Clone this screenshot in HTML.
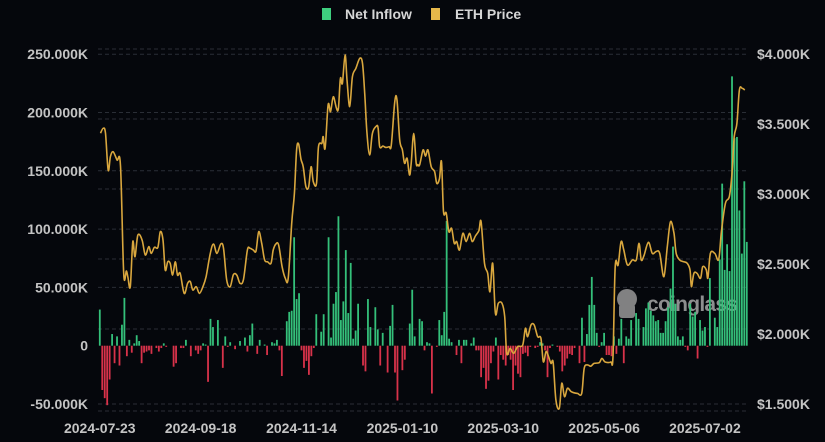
<!DOCTYPE html>
<html><head><meta charset="utf-8"><style>
html,body{margin:0;padding:0;background:#05070c;}
svg{display:block;font-family:"Liberation Sans Narrow","Liberation Sans",sans-serif;}
</style></head><body>
<svg id="chart" width="825" height="442" viewBox="0 0 825 442" xmlns="http://www.w3.org/2000/svg">
<rect x="0" y="0" width="825" height="442" fill="#05070c"/>
<g>
 <g>
  <rect x="322" y="8" width="9" height="12" fill="#3ecf7f"/>
  <text x="345" y="19" fill="#d6d6d6" font-size="14" font-weight="bold">Net Inflow</text>
 </g>
 <g>
  <rect x="431" y="8" width="9" height="12" fill="#e6b84a"/>
  <text x="455" y="19" fill="#d6d6d6" font-size="14" font-weight="bold">ETH Price</text>
 </g>
</g>
<g id="grid"></g>
<g id="watermark" opacity="0.8">
 <ellipse cx="627" cy="299" rx="10" ry="10" fill="#a0a0a0"/>
 <rect x="619" y="304" width="16" height="14" rx="3" fill="#a0a0a0"/>
 <text x="647" y="311" fill="#b0b0b0" font-size="21" font-weight="bold" font-family="Liberation Sans, sans-serif" textLength="91">coinglass</text>
</g>
<g id="bars"></g>
<g id="line"></g>
<g id="axes"></g>
</svg>
<script>
const inflowK = [31,-38,-45,-51,-29,10,-15,8,-17,18,
41,-9,5,-6,2,9,4,-15,-6,-5,
-4,-7,0,-2,-5,-2,2,-1,0,0,
-18,-15,0,-2,-2,5,0,-9,0,-4,
-7,-4,2,1,-31,23,16,0,22,0,
-19,8,-1,3,0,-3,0,4,0,7,
-5,9,19,0,-7,5,0,1,-8,0,
3,2,5,-4,-26,0,21,29,30,93,
40,45,-4,-19,-13,-25,-9,-2,27,0,
12,27,0,93,7,36,46,111,22,38,
82,28,71,6,13,36,0,-17,-22,40,
16,0,33,14,-17,11,0,-23,17,35,
-23,-47,0,-21,-12,0,19,48,8,0,
23,21,-4,3,2,-41,0,-1,22,9,
29,107,6,3,0,-8,5,-15,5,5,
0,2,7,-4,-4,-27,-19,-37,-30,-15,
-5,7,-29,-8,-12,-17,-8,-12,-38,-17,
-24,-27,-7,-6,-9,-1,0,-2,-1,3,
2,-4,-27,-2,1,0,-1,-5,-22,-17,
-11,-7,-8,-2,0,-15,24,-14,10,35,
59,35,11,-1,3,11,-8,-8,-9,8,
-7,6,23,-15,8,6,22,0,28,23,
0,16,32,37,30,26,21,22,11,11,
21,33,49,85,36,8,5,8,-1,-4,
36,25,29,-11,22,13,16,-1,58,0,
24,16,74,139,65,87,64,231,178,179,
116,79,141,89];
const priceDay = [0.3,1.4,2.3,3.4,4.3,5.4,7.0,8.4,9.7,10.8,11.4,12.4,13.4,14.3,15.5,17.2,18.5,19.9,20.9,22.2,23.6,24.6,25.7,26.6,27.6,28.6,29.6,30.7,31.6,32.7,34.3,35.7,36.8,37.8,39.2,40.5,41.9,43.2,44.9,46.2,47.6,49.2,50.3,51.6,53.0,54.3,55.7,57.0,58.4,60.0,61.1,62.4,63.5,64.6,65.8,67.0,68.2,69.6,70.5,71.6,72.7,74.1,75.4,76.6,78.0,79.1,80.0,80.8,81.8,82.7,83.8,84.9,85.9,86.8,88.1,88.9,90.3,90.8,91.6,92.8,93.8,94.9,96.2,97.0,97.8,98.6,99.7,100.5,101.6,102.7,104.1,105.7,106.8,107.7,108.6,109.7,110.8,112.2,113.1,113.8,115.1,116.2,117.6,118.5,119.9,120.8,121.9,123.0,123.9,124.9,125.9,126.6,127.6,128.6,129.3,
130,131.4,132.4,133.4,134.7,136.1,137,138.1,138.9,139.7,140.8,141.9,143,144.1,145.1,146.2,147.6,148.9,150.3,151.4,152.7,154.1,155,156.4,157.7,158.6,159.7,160.8,162,163.5,164.6,165.4,166.8,168.2,169.9,171.9,173,173.9,175.3,176.6,178,179.3,180.3,181.4,182.4,183.4,184.3,185.4,186.8,187.8,188.9,190.1,191.5,192.8,194.2,195.9,196.9,198.2,199.6,200.9,203,204.1,205.4,207.7,208.6,209.5,210.7,211.9,213,214.5,216.5,218.1,219.2,220.1,221.2,223,224.6,226.2,227.6,229.3,230.7,232,233.4,234.3,235.7,237.4,238.8,239.9,240.5,241.5,242.8,244.2,245.1,246.5,247.2,248.2,250,251.6,252.7,254.3,255.9,257,257.9,259,260,261.1,262.2];
const priceUsd = [3434,3469,3434,3171,3267,3302,3243,3200,2434,2450,2409,2338,2659,2552,2707,2671,2564,2624,2576,2619,2619,2731,2671,2457,2516,2505,2421,2516,2421,2433,2290,2362,2374,2314,2338,2290,2338,2409,2576,2643,2576,2643,2612,2386,2338,2424,2421,2362,2390,2600,2612,2600,2593,2731,2648,2529,2516,2505,2600,2643,2636,2481,2398,2398,2790,3005,3314,3357,3248,3195,3052,3052,3195,3088,3076,3338,3362,3410,3327,3636,3588,3695,3612,3612,3826,3790,3993,3814,3624,3838,3898,3969,3933,3719,3433,3279,3433,3481,3476,3338,3343,3333,3338,3350,3660,3671,3386,3314,3219,3255,3136,3219,3433,3219,3210,
3207,3314,3270,3314,3195,3160,3076,3110,3231,2874,2864,2731,2755,2648,2660,2600,2719,2660,2719,2660,2700,2738,2802,2505,2433,2302,2505,2148,2219,2219,2124,1862,1898,1862,1910,1921,2041,1981,2064,2064,1981,1970,1802,1874,1840,1790,1795,1529,1469,1648,1552,1612,1590,1580,1576,1576,1755,1779,1770,1790,1795,1826,1800,1800,1838,2481,2493,2659,2600,2493,2529,2529,2648,2529,2560,2655,2576,2590,2576,2409,2624,2802,2719,2576,2529,2516,2505,2457,2338,2433,2433,2398,2481,2460,2400,2576,2576,2533,2731,2933,2981,3148,3410,3505,3743,3755,3743];
const leftTicksK = [250,200,150,100,50,0,-50];
const rightTicksUsd = [4000,3500,3000,2500,2000,1500];
const xTickDay = [0,41,82,123,164,205,246];
const xTickLabels = ["2024-07-23","2024-09-18","2024-11-14","2025-01-10","2025-03-10","2025-05-06","2025-07-02"];

const NS="http://www.w3.org/2000/svg";
const X0=99.8, STEP=2.46;
const xScale = d => X0 + d*STEP;
const yLeft = k => 345.7 - k*(58.3/50);
const yRight = p => 54 + (4000-p)*(70/500);
function mk(tag, parent){const e=document.createElementNS(NS,tag);parent.appendChild(e);return e;}

const grid=document.getElementById('grid');
leftTicksK.forEach(k=>{ if(k===0) return;
  const l=mk('line',grid);
  
  
  l.setAttribute('x1',98);l.setAttribute('x2',748);l.setAttribute('y1',yLeft(k));l.setAttribute('y2',yLeft(k));
  l.setAttribute('stroke','#2a2e36');l.setAttribute('stroke-dasharray','4 3');l.setAttribute('stroke-width','1');
});
rightTicksUsd.forEach(p=>{
  const l=mk('line',grid);
  
  
  const y=yRight(p)-5+(p===1500?12:0);
  l.setAttribute('x1',98);l.setAttribute('x2',748);l.setAttribute('y1',y);l.setAttribute('y2',y);
  l.setAttribute('stroke','#2a2e36');l.setAttribute('stroke-dasharray','4 3');l.setAttribute('stroke-width','1');
});

const bars=document.getElementById('bars');
inflowK.forEach((v,i)=>{ if(v===0) return;
  const r=mk('rect',bars);
  
  
  const y0=yLeft(0), y1=yLeft(v);
  r.setAttribute('x',xScale(i)-0.9);r.setAttribute('width',1.8);
  r.setAttribute('y',Math.min(y0,y1));r.setAttribute('height',Math.max(0.8,Math.abs(y1-y0)));
  r.setAttribute('fill',v>0?'#34c07a':'#d8324a');
});

const lineG=document.getElementById('line');
const path=mk('path',lineG);


const pts=priceDay.map((d,i)=>[xScale(d),yRight(priceUsd[i])]);
let dStr='M'+pts[0][0].toFixed(1)+','+pts[0][1].toFixed(1);
for(let i=1;i<pts.length;i++){
  const p0=pts[i-2]||pts[i-1],p1=pts[i-1],p2=pts[i],p3=pts[i+1]||pts[i];
  const c1=[p1[0]+(p2[0]-p0[0])/6,p1[1]+(p2[1]-p0[1])/6];
  const c2=[p2[0]-(p3[0]-p1[0])/6,p2[1]-(p3[1]-p1[1])/6];
  dStr+=' C'+c1[0].toFixed(1)+','+c1[1].toFixed(1)+' '+c2[0].toFixed(1)+','+c2[1].toFixed(1)+' '+p2[0].toFixed(1)+','+p2[1].toFixed(1);
}
path.setAttribute('d',dStr);
path.setAttribute('fill','none');path.setAttribute('stroke','#d9a73e');path.setAttribute('stroke-width','1.6');path.setAttribute('stroke-linejoin','round');

const axes=document.getElementById('axes');
leftTicksK.forEach(k=>{
  const t=mk('text',axes);
  
  
  t.setAttribute('x',88);t.setAttribute('y',yLeft(k)+5);t.setAttribute('text-anchor','end');
  t.setAttribute('fill','#c4c4c4');t.setAttribute('font-size','14');t.setAttribute('font-weight','bold');
  t.textContent = k===0 ? '0' : k.toFixed(3)+'K';
});
rightTicksUsd.forEach(p=>{
  const t=mk('text',axes);
  
  
  t.setAttribute('x',757);t.setAttribute('y',yRight(p)+5);
  t.setAttribute('fill','#c4c4c4');t.setAttribute('font-size','14');t.setAttribute('font-weight','bold');
  t.textContent='$'+(p/1000).toFixed(3)+'K';
});
xTickDay.forEach((d,i)=>{
  const t=mk('text',axes);
  
  
  t.setAttribute('x',xScale(d));t.setAttribute('y',433);t.setAttribute('text-anchor','middle');
  t.setAttribute('fill','#c4c4c4');t.setAttribute('font-size','14');t.setAttribute('font-weight','bold');
  t.textContent=xTickLabels[i];
});
</script>
</body></html>
